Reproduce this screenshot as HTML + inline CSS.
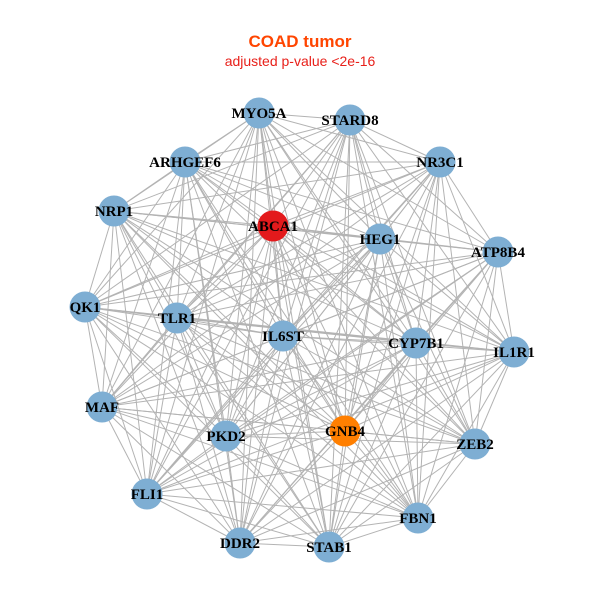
<!DOCTYPE html>
<html><head><meta charset="utf-8"><style>
html,body{margin:0;padding:0;background:#fff;}
svg{display:block;}
.lbl{font-family:"Liberation Serif",serif;font-weight:bold;font-size:15px;fill:#000;text-anchor:middle;dominant-baseline:central;}
</style></head><body>
<svg id="s" width="600" height="600" viewBox="0 0 600 600" xmlns="http://www.w3.org/2000/svg">
<rect width="600" height="600" fill="#fff"/>
<text x="300" y="47" text-anchor="middle" font-family="Liberation Sans,sans-serif" font-weight="bold" font-size="17" fill="#ff4500">COAD tumor</text>
<text x="300" y="66" text-anchor="middle" font-family="Liberation Sans,sans-serif" font-size="14" fill="#e8201a">adjusted p-value &lt;2e-16</text>
<g id="edges" stroke="#b3b3b3" stroke-width="1"></g>
<g id="nodes"></g>
<g>
<text class="lbl" x="259" y="114">MYO5A</text>
<text class="lbl" x="350" y="121">STARD8</text>
<text class="lbl" x="185" y="163">ARHGEF6</text>
<text class="lbl" x="440" y="163">NR3C1</text>
<text class="lbl" x="114" y="212">NRP1</text>
<text class="lbl" x="273" y="227">ABCA1</text>
<text class="lbl" x="380" y="240">HEG1</text>
<text class="lbl" x="498" y="253">ATP8B4</text>
<text class="lbl" x="85" y="308">QK1</text>
<text class="lbl" x="177" y="319">TLR1</text>
<text class="lbl" x="283" y="337">IL6ST</text>
<text class="lbl" x="416" y="344">CYP7B1</text>
<text class="lbl" x="514" y="353">IL1R1</text>
<text class="lbl" x="102" y="408">MAF</text>
<text class="lbl" x="226" y="437">PKD2</text>
<text class="lbl" x="345" y="432">GNB4</text>
<text class="lbl" x="475" y="445">ZEB2</text>
<text class="lbl" x="147" y="495">FLI1</text>
<text class="lbl" x="418" y="519">FBN1</text>
<text class="lbl" x="240" y="544">DDR2</text>
<text class="lbl" x="329" y="548">STAB1</text>
</g>
</svg>
<script>
var N=[[259,113],[350,120],[185,162],[440,162],[114,211],[273,226],[380,239],[498,252],[85,307],[177,318],[283,336],[416,343],[514,352],[102,407],[226,436],[345,431],[475,444],[147,494],[418,518],[240,543],[329,547]];
var ns="http://www.w3.org/2000/svg",e=document.getElementById("edges"),g=document.getElementById("nodes");
for(var i=0;i<N.length;i++)for(var j=i+1;j<N.length;j++){var l=document.createElementNS(ns,"line");l.setAttribute("x1",N[i][0]);l.setAttribute("y1",N[i][1]);l.setAttribute("x2",N[j][0]);l.setAttribute("y2",N[j][1]);e.appendChild(l);}
for(var i=0;i<N.length;i++){var c=document.createElementNS(ns,"circle");c.setAttribute("cx",N[i][0]);c.setAttribute("cy",N[i][1]);c.setAttribute("r",15.5);c.setAttribute("fill",i==5?"#e31a1c":(i==15?"#ff7f00":"#7eaed3"));g.appendChild(c);}
</script>
</body></html>
